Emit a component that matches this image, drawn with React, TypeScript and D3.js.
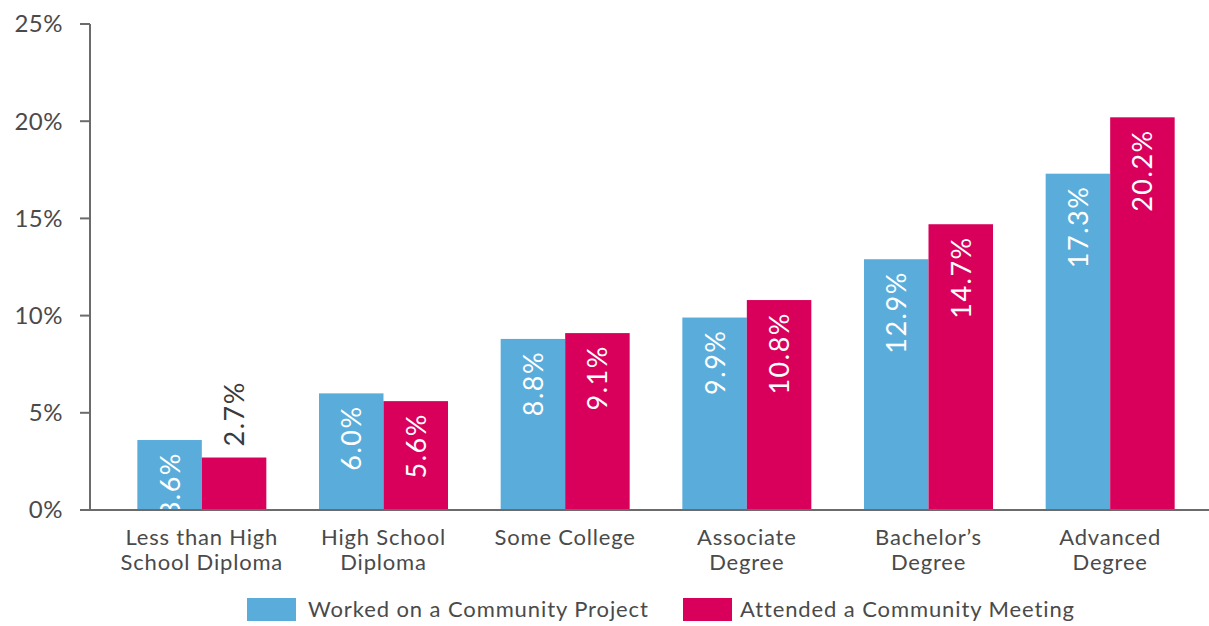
import React from "react";
import * as d3 from "d3";

const categories = [
  ["Less than High", "School Diploma"],
  ["High School", "Diploma"],
  ["Some College"],
  ["Associate", "Degree"],
  ["Bachelor’s", "Degree"],
  ["Advanced", "Degree"],
];
const seriesNames = ["Worked on a Community Project", "Attended a Community Meeting"];
const projectValues = [3.6, 6.0, 8.8, 9.9, 12.9, 17.3];
const meetingValues = [2.7, 5.6, 9.1, 10.8, 14.7, 20.2];
const yTicks = [0, 5, 10, 15, 20, 25];
const colors = ["#5aaddb", "#d9005b"];

const W = 1209;
const H = 626;
const FONT = "Lato, 'Noto Sans', sans-serif";
const TEXT = "#4a4a4a";

export default function App() {
  const y = d3.scaleLinear().domain([0, 25]).range([510, 24]);
  const x = d3
    .scaleBand<number>()
    .domain(d3.range(categories.length))
    .range([111, 1201])
    .paddingInner(0)
    .paddingOuter(0);
  const barW = 64.5;
  const series = [projectValues, meetingValues];

  return (
    <svg width={W} height={H} style={{ position: "absolute", left: 0, top: 0 }}>
      <rect width={W} height={H} fill="#fff" />
      {/* bars */}
      {series.map((vals, si) =>
        vals.map((v, i) => {
          const cx = x(i)! + x.bandwidth() / 2;
          const bx = cx - barW + si * barW;
          return (
            <rect
              key={`b${si}-${i}`}
              x={bx}
              y={y(v)}
              width={barW}
              height={y(0) - y(v)}
              fill={colors[si]}
            />
          );
        })
      )}
      {/* value labels */}
      {series.map((vals, si) =>
        vals.map((v, i) => {
          const cx = x(i)! + x.bandwidth() / 2;
          const lx = cx - barW / 2 + si * barW;
          const top = y(v);
          const label = `${v.toFixed(1)}%`;
          const inside = v >= 3;
          const estLen = label.length * 16;
          let anchorY;
          if (inside) {
            anchorY = Math.min(top + 12, y(0) - estLen + 10);
          } else {
            anchorY = top - 11;
          }
          return (
            <text
              key={`l${si}-${i}`}
              transform={`translate(${lx + 10},${anchorY}) rotate(-90)`}
              textAnchor={inside ? "end" : "start"}
              fontFamily={FONT}
              fontSize={27}
              letterSpacing={1.5}
              fill={inside ? "#fff" : "#3a3a3a"}
            >
              {label}
            </text>
          );
        })
      )}
      {/* axes */}
      <line x1={90} x2={90} y1={y(25)} y2={y(0)} stroke="#6b6b6b" strokeWidth={2} />
      <line x1={80} x2={W} y1={y(0)} y2={y(0)} stroke="#6b6b6b" strokeWidth={2} />
      {yTicks.map((t) => (
        <g key={t}>
          <line x1={80} x2={90} y1={y(t)} y2={y(t)} stroke="#6b6b6b" strokeWidth={2} />
          <text
            x={63}
            y={y(t)}
            dy="0.35em"
            textAnchor="end"
            fontFamily={FONT}
            fontSize={24}
            letterSpacing={0.5}
            fill={TEXT}
          >
            {t}%
          </text>
        </g>
      ))}
      {/* category labels */}
      {categories.map((lines, i) => {
        const cx = x(i)! + x.bandwidth() / 2;
        return (
          <text
            key={`c${i}`}
            textAnchor="middle"
            fontFamily={FONT}
            fontSize={22}
            letterSpacing={0.8}
            fill={TEXT}
          >
            {lines.map((ln, li) => (
              <tspan key={li} x={cx} y={545 + li * 25}>
                {ln}
              </tspan>
            ))}
          </text>
        );
      })}
      {/* legend */}
      {[
        { sx: 247, tx: 308 },
        { sx: 683, tx: 740 },
      ].map((p, si) => (
        <g key={`lg${si}`}>
          <rect x={p.sx} y={598} width={49} height={23} fill={colors[si]} />
          <text
            x={p.tx}
            y={617}
            fontFamily={FONT}
            fontSize={22}
            letterSpacing={0.9}
            fill={TEXT}
          >
            {seriesNames[si]}
          </text>
        </g>
      ))}
    </svg>
  );
}
